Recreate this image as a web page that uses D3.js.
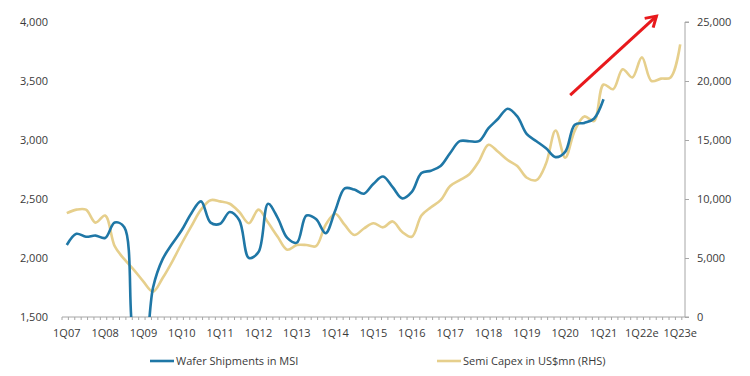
<!DOCTYPE html>
<html><head><meta charset="utf-8">
<script src="https://cdn.jsdelivr.net/npm/d3@7"></script>
<style>body{margin:0;background:#fff}svg{display:block}text{font-family:"Open Sans",sans-serif;fill:#3a3a3a}</style>
</head><body><svg id="c" width="750" height="376"></svg>
<script>
const quarters = [];
for (let y = 7; y <= 23; y++) for (let q = 1; q <= 4; q++) {
  if (y === 23 && q > 1) break;
  quarters.push(q + "Q" + String(y).padStart(2, "0") + (y >= 22 ? "e" : ""));
}
const tickLabels = ["1Q07","1Q08","1Q09","1Q10","1Q11","1Q12","1Q13","1Q14","1Q15","1Q16","1Q17","1Q18","1Q19","1Q20","1Q21","1Q22e","1Q23e"];
const leftTicks = [1500, 2000, 2500, 3000, 3500, 4000];
const rightTicks = [0, 5000, 10000, 15000, 20000, 25000];
const waferShipments = [2110,2205,2180,2190,2170,2300,2260,1300,1150,1750,1990,2120,2237,2380,2480,2300,
  2290,2390,2320,2000,2050,2460,2340,2170,2130,2360,2330,2210,2400,2590,2580,2545,2630,2690,2600,2505,
  2560,2720,2740,2780,2890,2990,2990,2990,3100,3180,3265,3200,3050,2990,2930,2855,2900,3130,3145,3180,3345];
const semiCapex = [8800,9100,9100,8000,8600,6000,4900,4000,3000,2150,3300,4700,6250,7700,9100,9900,
  9800,9600,8900,7950,9100,8000,6800,5700,6100,6100,6000,7800,8750,7800,6950,7500,7950,7600,8100,7200,
  6800,8600,9300,9900,11100,11600,12100,13200,14600,14000,13300,12800,11800,11600,13000,15800,13500,15800,
  17000,16600,19700,19300,21000,20300,22000,20000,20200,20300,23100];
const legendLabels = ["Wafer Shipments in MSI", "Semi Capex in US$mn (RHS)"];
const arrowQuarters = ["1Q20", "2Q22e"];
const arrowValues = [18800, 25500];

const svg = d3.select("#c");
const L = 62, R = 685, T = 22, B = 317;
const x = d3.scaleLinear().domain([0, quarters.length]).range([L, R]);
const cx = i => x(i + 0.5);
const yL = d3.scaleLinear().domain([1500, 4000]).range([B, T]);
const yR = d3.scaleLinear().domain([0, 25000]).range([B, T]);
const fmt = d3.format(",");

svg.append("defs").append("clipPath").attr("id", "clip")
  .append("rect").attr("x", L).attr("y", T - 5).attr("width", R - L).attr("height", B - T + 5);

// left axis labels
svg.append("g").selectAll("text").data(leftTicks).join("text")
  .attr("x", 48).attr("y", d => yL(d) + 4).attr("text-anchor", "end").attr("font-size", 11).text(fmt);

// right axis
const gr = svg.append("g").attr("transform", `translate(${R},0)`)
  .call(d3.axisRight(yR).tickValues(rightTicks).tickSize(4).tickPadding(8).tickFormat(fmt));
gr.select(".domain").attr("stroke", "#a6a6a6").attr("d", `M4,${T}H0V${B}H4`);
gr.selectAll(".tick line").attr("stroke", "#a6a6a6");
gr.selectAll("text").attr("font-size", 11).attr("fill", "#3a3a3a").attr("font-family", "Open Sans, sans-serif");

// bottom axis
const minor = d3.range(0, quarters.length + 0.001, 2 / 3);
const gb = svg.append("g").attr("transform", `translate(0,${B})`);
gb.append("line").attr("x1", L).attr("x2", R).attr("stroke", "#a6a6a6");
gb.selectAll("line.t").data(minor).join("line").attr("class", "t")
  .attr("x1", d => x(d)).attr("x2", d => x(d)).attr("y1", 0).attr("y2", 3).attr("stroke", "#a6a6a6");
gb.selectAll("text").data(tickLabels).join("text")
  .attr("x", d => cx(quarters.indexOf(d))).attr("y", 20).attr("text-anchor", "middle")
  .attr("font-size", 11).text(d => d);

const curve = d3.curveCatmullRom.alpha(0.5);
svg.append("path").datum(semiCapex)
  .attr("d", d3.line().x((d, i) => cx(i)).y(d => yR(d)).curve(curve))
  .attr("fill", "none").attr("stroke", "#e6cf8c").attr("stroke-width", 2.6);
svg.append("path").datum(waferShipments).attr("clip-path", "url(#clip)")
  .attr("d", d3.line().x((d, i) => cx(i)).y(d => yL(d)).curve(curve))
  .attr("fill", "none").attr("stroke", "#1f77a6").attr("stroke-width", 2.6);

// red arrow
const ax1 = cx(quarters.indexOf(arrowQuarters[0])) + 5, ay1 = yR(arrowValues[0]);
const ax2 = cx(quarters.indexOf(arrowQuarters[1])) + 5, ay2 = yR(arrowValues[1]);
const ang = Math.atan2(ay2 - ay1, ax2 - ax1);
const hl = 12, ha = 0.55;
svg.append("line").attr("x1", ax1).attr("y1", ay1).attr("x2", ax2).attr("y2", ay2)
  .attr("stroke", "#e8191c").attr("stroke-width", 3);
svg.append("path")
  .attr("d", `M${ax2 - hl * Math.cos(ang - ha)},${ay2 - hl * Math.sin(ang - ha)}L${ax2},${ay2}L${ax2 - hl * Math.cos(ang + ha)},${ay2 - hl * Math.sin(ang + ha)}`)
  .attr("fill", "none").attr("stroke", "#e8191c").attr("stroke-width", 3).attr("stroke-linejoin", "miter");

// legend
const lg = [{x: 150, c: "#1f77a6"}, {x: 437, c: "#e6cf8c"}];
lg.forEach((l, i) => {
  svg.append("line").attr("x1", l.x).attr("x2", l.x + 24).attr("y1", 361).attr("y2", 361)
    .attr("stroke", l.c).attr("stroke-width", 2.6);
  svg.append("text").attr("x", l.x + 26).attr("y", 365).attr("font-size", 11).text(legendLabels[i]);
});
</script></body></html>
